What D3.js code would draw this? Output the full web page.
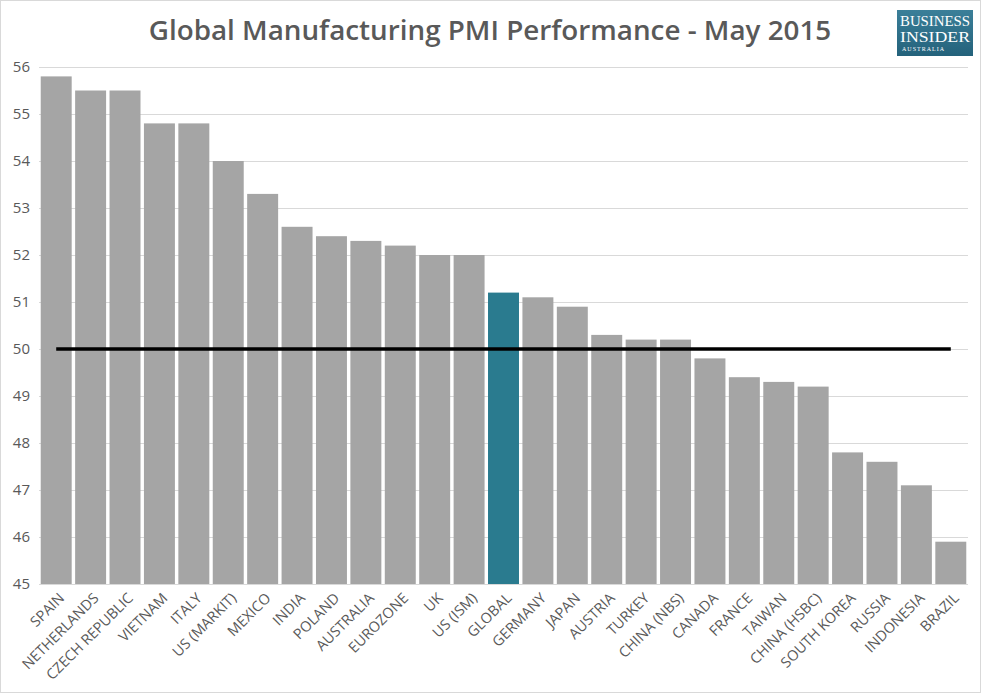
<!DOCTYPE html>
<html><head><meta charset="utf-8">
<script src="https://cdn.jsdelivr.net/npm/d3@7/dist/d3.min.js"></script>
<style>body{margin:0;background:#fff}svg{display:block}</style>
</head><body>
<svg id="c" width="982" height="694"></svg>
<script>
const categories = ["SPAIN","NETHERLANDS","CZECH REPUBLIC","VIETNAM","ITALY","US (MARKIT)","MEXICO","INDIA","POLAND","AUSTRALIA","EUROZONE","UK","US (ISM)","GLOBAL","GERMANY","JAPAN","AUSTRIA","TURKEY","CHINA (NBS)","CANADA","FRANCE","TAIWAN","CHINA (HSBC)","SOUTH KOREA","RUSSIA","INDONESIA","BRAZIL"];
const values = [55.8,55.5,55.5,54.8,54.8,54.0,53.3,52.6,52.4,52.3,52.2,52.0,52.0,51.2,51.1,50.9,50.3,50.2,50.2,49.8,49.4,49.3,49.2,47.8,47.6,47.1,45.9];
const yTicks = [45,46,47,48,49,50,51,52,53,54,55,56];
const threshold = 50;
const highlight = "GLOBAL";
const title = "Global Manufacturing PMI Performance - May 2015";

const svg = d3.select("#c");
const font = "'Open Sans', 'Segoe UI', sans-serif";
const m = {left: 39, right: 968, top: 67, bottom: 584};

const x = d3.scaleBand().domain(categories).range([m.left, m.right]).paddingInner(0.1).paddingOuter(0.05);
const y = d3.scaleLinear().domain([45,56]).range([m.bottom, m.top]);

// border
svg.append("rect").attr("x",0.5).attr("y",0.5).attr("width",980).attr("height",692)
  .attr("fill","none").attr("stroke","#d9d9d9");

// gridlines
svg.append("g").selectAll("line").data(yTicks).join("line")
  .attr("x1", m.left).attr("x2", m.right)
  .attr("y1", d => Math.round(y(d))+0.5).attr("y2", d => Math.round(y(d))+0.5)
  .attr("stroke", "#d9d9d9").attr("stroke-width", 1);

// y axis labels
const yAxis = d3.axisLeft(y).tickValues(yTicks).tickSize(0).tickPadding(9).tickFormat(d3.format("d"));
const ya = svg.append("g").attr("transform", `translate(${m.left},0)`).call(yAxis);
ya.select(".domain").remove();
ya.selectAll("text").attr("font-family", font).attr("font-size", 15).attr("fill", "#595959");

// bars
svg.append("g").selectAll("rect").data(categories).join("rect")
  .attr("x", d => x(d)).attr("width", x.bandwidth())
  .attr("y", (d,i) => y(values[i])).attr("height", (d,i) => y(45) - y(values[i]))
  .attr("fill", d => d === highlight ? "#2a7b8f" : "#a5a5a5");

// x axis line
svg.append("line").attr("x1", m.left).attr("x2", m.right)
  .attr("y1", m.bottom+0.5).attr("y2", m.bottom+0.5).attr("stroke", "#d9d9d9");

// x labels
const xAxis = d3.axisBottom(x).tickSize(0).tickPadding(0);
const xa = svg.append("g").attr("transform", `translate(0,${m.bottom})`).call(xAxis);
xa.select(".domain").remove();
xa.selectAll("text")
  .attr("font-family", font).attr("font-size", 14.5).attr("fill", "#595959")
  .attr("text-anchor", "end").attr("dy", null).attr("y", 0)
  .attr("transform", "translate(9,15) rotate(-45)");

// threshold line
svg.append("line")
  .attr("x1", x(categories[0]) + x.bandwidth()/2)
  .attr("x2", x(categories[categories.length-1]) + x.bandwidth()/2)
  .attr("y1", y(threshold)).attr("y2", y(threshold))
  .attr("stroke", "#000").attr("stroke-width", 3.5);

// title
svg.append("text").attr("x", 490).attr("y", 40).attr("text-anchor", "middle")
  .attr("font-family", font).attr("font-weight", 600).attr("font-size", 27.8).attr("fill", "#595959")
  .text(title);

// logo
const lg = svg.append("g").attr("transform","translate(897,10)");
const grad = svg.append("defs").append("linearGradient").attr("id","lgG").attr("x1",0).attr("y1",0).attr("x2",0).attr("y2",1);
grad.append("stop").attr("offset","0%").attr("stop-color","#3b7f99");
grad.append("stop").attr("offset","100%").attr("stop-color","#24627b");
lg.append("rect").attr("width",76).attr("height",46).attr("fill","url(#lgG)");
lg.append("text").attr("x",38).attr("y",16).attr("text-anchor","middle").attr("fill","#fff")
  .attr("font-family","'Liberation Serif', serif").attr("font-size",15).attr("textLength",70).attr("lengthAdjust","spacingAndGlyphs").text("BUSINESS");
lg.append("text").attr("x",38).attr("y",32).attr("text-anchor","middle").attr("fill","#fff")
  .attr("font-family","'Liberation Serif', serif").attr("font-size",15).attr("textLength",70).attr("lengthAdjust","spacingAndGlyphs").text("INSIDER");
lg.append("text").attr("x",5).attr("y",41).attr("fill","#fff")
  .attr("font-family","'Liberation Serif', serif").attr("font-size",6).attr("textLength",42).text("AUSTRALIA");
</script>
</body></html>
